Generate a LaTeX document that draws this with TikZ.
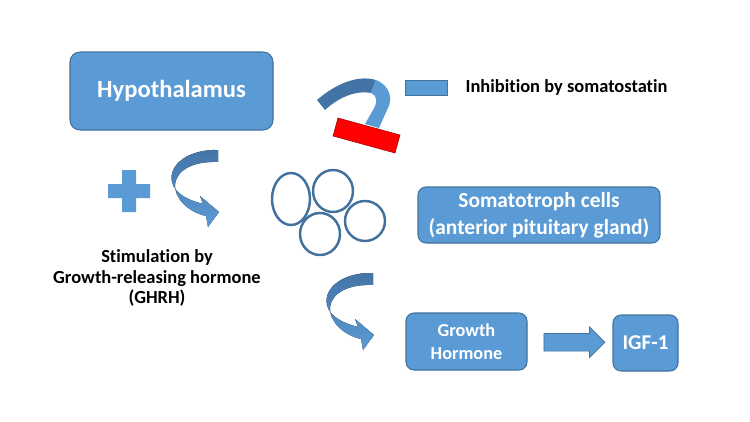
\documentclass[tikz,border=0pt]{standalone}
\usepackage{fontspec}
\setmainfont[Ligatures=NoCommon]{Carlito}
\usetikzlibrary{positioning,shapes.arrows}
\definecolor{ghBlue}{RGB}{91,155,213}
\definecolor{ghEdge}{RGB}{65,113,156}
\definecolor{ghDark}{RGB}{68,116,166}
\definecolor{ghRed}{RGB}{255,0,0}

\tikzset{
  bentarrow/.pic={
    \fill[top color=ghDark, bottom color=ghBlue]
      (0,0) .. controls (-28,-1) and (-50,14) .. (-46,32)
      .. controls (-43,44) and (-30,50) .. (-15,54)
      -- (-18,46) -- (1,62) -- (-10,77) -- (-12,66)
      .. controls (-30,62) and (-44,48) .. (-43,34)
      .. controls (-41,20) and (-25,11) .. (0,12) -- cycle;
  }
}

\begin{document}
\begin{tikzpicture}[x=0.2mm, y=-0.2mm,
  bluebox/.style={rectangle, rounded corners=2mm, fill=ghBlue, draw=ghEdge,
    line width=0.6pt, text=white, align=center, inner sep=0pt},
  cell/.style={draw=ghEdge, line width=1.4pt},
  caption/.style={align=center, inner sep=0pt},
  blockarrow/.style={single arrow, fill=ghBlue, draw=ghEdge, line width=0.4pt,
    inner xsep=0pt, inner ysep=1.7mm, minimum height=12.2mm,
    single arrow head extend=1.3mm}]
  \useasboundingbox (0,0) rectangle (750,422);

  % Boxes
  \node[bluebox, minimum width=40.6mm, minimum height=15.6mm,
    font=\bfseries\fontsize{14}{16}\selectfont] (hypo) at (171.5,91) {Hypothalamus};
  \node[bluebox, minimum width=48.4mm, minimum height=11.2mm, rounded corners=1.6mm,
    font=\bfseries\fontsize{12.2}{15.4}\selectfont] (soma) at (539,215)
    {Somatotroph cells\\(anterior pituitary gland)};
  \node[bluebox, minimum width=24.2mm, minimum height=11.4mm, rounded corners=1.6mm,
    font=\bfseries\fontsize{10.4}{13}\selectfont] (gh) at (466.5,341.5) {Growth\\Hormone};
  \node[bluebox, minimum width=13mm, minimum height=11.2mm, rounded corners=1.6mm,
    font=\bfseries\fontsize{12}{14}\selectfont] (igf) at (645.5,343) {IGF-1};

  % GH -> IGF-1
  \path (gh.east) -- (igf.west) node[midway, blockarrow] (toigf) {};

  % Legend
  \node[fill=ghBlue, draw=ghEdge, line width=0.3pt, inner sep=0pt,
    minimum width=8.4mm, minimum height=3mm] (legbox) at (426,87.5) {};
  \node[caption, right=3.6mm of legbox, font=\bfseries\fontsize{10.5}{12}\selectfont]
    (legtext) {Inhibition by somatostatin};

  % Inhibition ribbon
  \fill[ghDark] (317,100) .. controls (333,86) and (356,74) .. (376,80)
    -- (371,93) .. controls (355,90) and (338,98) .. (325,110) -- cycle;
  \fill[ghBlue] (376,80) .. controls (391,86) and (393,100) .. (387,110)
    -- (379,128) -- (365,124) -- (373,110)
    .. controls (378,102) and (377,95) .. (371,93) -- cycle;
  \filldraw[fill=ghRed, draw=red!60!black, line width=0.3pt]
    (338,118) -- (400,135) -- (395,153) -- (333,136) -- cycle;

  % Plus sign
  \fill[ghBlue, shift={(129,191)}]
    (-7,-21) -- (7,-21) -- (7,-7) -- (21,-7) -- (21,7) -- (7,7)
    -- (7,21) -- (-7,21) -- (-7,7) -- (-21,7) -- (-21,-7) -- (-7,-7) -- cycle;

  % Bent arrows
  \pic at (218,150) {bentarrow};
  \pic at (373,273) {bentarrow};

  % Cells
  \draw[cell] (291,199) ellipse [x radius=19, y radius=26];
  \draw[cell] (333,191) ellipse [x radius=20, y radius=21];
  \draw[cell] (320,234) ellipse [x radius=20, y radius=21];
  \draw[cell] (365,221) ellipse [x radius=20, y radius=20];

  % Stimulation caption
  \node[caption, font=\bfseries\fontsize{10.5}{11.7}\selectfont] (stim) at (157,278)
    {Stimulation by\\Growth-releasing hormone\\(GHRH)};
\end{tikzpicture}
\end{document}
